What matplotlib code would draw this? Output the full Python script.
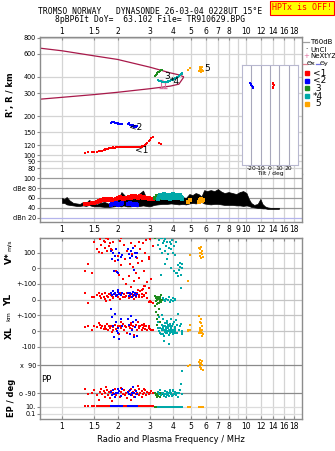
import matplotlib
matplotlib.use('Agg')
import matplotlib.pyplot as plt
from matplotlib.lines import Line2D
import numpy as np

# ---- axis ticks / labels ----
freq_ticks = [1, 1.5, 2, 3, 4, 5, 6, 7, 8, 10, 12, 14, 16, 18]
freq_ticks_mid = [1, 1.5, 2, 3, 4, 5, 6, 7, 8, 9, 10, 12, 14, 16, 18]
freq_grid = [1, 1.5, 2, 3, 4, 5, 6, 7, 8, 9, 10, 12, 14, 16, 18]
height_ticks = [80, 90, 100, 120, 150, 200, 300, 400, 600, 800]
dbe_ticks = [20, 40, 60, 80, 100]
dbe_labels = ['dBn 20', '40', '60', 'dBe 80', '100']

# ---- model traces (maroon) ----
trace_up_f = [0.76, 1.0, 1.5, 2.0, 3.0, 3.86, 4.3, 4.55]
trace_up_h = [665, 635, 580, 545, 475, 430, 415, 402]
trace_lo_f = [0.76, 1.0, 1.5, 2.0, 3.0, 3.86, 4.3, 4.55]
trace_lo_h = [270, 279, 293, 305, 325, 340, 352, 395]

# ---- NeXtYZ markers ----
nxyz_f = [3.45, 3.62]
nxyz_h = [352, 348]
nxyz_err = [25, 20]

# ---- echo groups: freq, height, amplitude, V*, YL, XL, PP, EP ----
red_f = [1.33, 1.38, 1.45, 1.5, 1.55, 1.58, 1.6, 1.62, 1.65, 1.68, 1.7, 1.72, 1.74, 1.75, 1.78, 1.8,
         1.82, 1.85, 1.86, 1.88, 1.9, 1.93, 1.96, 2.0, 2.03, 2.06, 2.08, 2.1, 2.13, 2.16, 2.2, 2.23,
         2.26, 2.3, 2.33, 2.36, 2.38, 2.4, 2.43, 2.46, 2.5, 2.53, 2.56, 2.58, 2.6, 2.63, 2.66, 2.7,
         2.73, 2.76, 2.78, 2.8, 2.83, 2.86, 2.9, 2.95, 2.98, 3.0, 3.05, 3.1, 3.35, 3.45]
red_h = [105, 106, 106, 107, 107, 108, 108, 109, 109, 110, 110, 111, 111, 112, 112, 113,
         113, 114, 113, 114, 115, 114, 115, 115, 116, 115, 116, 116, 115, 116, 115, 116,
         115, 116, 115, 116, 116, 115, 116, 116, 116, 115, 116, 117, 116, 117, 117, 117,
         118, 118, 118, 119, 120, 122, 125, 128, 130, 132, 135, 138, 124, 122]
red_db = [47, 48, 49, 50, 51, 53, 54, 55, 56, 57, 56, 58, 57, 55, 57, 56,
          55, 57, 56, 55, 54, 56, 58, 60, 61, 62, 60, 59, 57, 58, 60, 59,
          61, 62, 63, 62, 61, 64, 63, 62, 64, 63, 62, 61, 62, 63, 64, 63,
          62, 61, 60, 62, 61, 60, 59, 58, 59, 57, 58, 57, np.nan, np.nan]
red_v = [-20, 25, -30, 170, 120, 105, 185, 150, 95, 175, 130, 165, 190, 110, 185, 140,
         160, 125, 115, 100, 170, 45, -15, 80, -40, 175, 190, 20, -70, 150, 60, -100,
         110, -50, 30, -120, 160, 90, 10, -80, 140, -30, 65, 35, 170, -60, 120, -140,
         45, 160, -110, -20, 100, 180, -90, 60, 75, 185, -70, 140, np.nan, np.nan]
red_yl = [40, -20, 20, 15, 30, 40, 25, 10, 35, 20, 5, 40, -10, 25, 15, 35,
          -5, 30, 25, 20, 10, 35, 25, 15, 40, 5, 45, 30, 20, 35, 15, 25,
          40, 10, 30, 20, 20, 35, 25, 5, 30, 20, 45, 60, 15, 30, 55, 20,
          35, 70, 30, 25, 90, 40, 10, -15, 75, -10, -15, -20, np.nan, np.nan]
red_xl = [25, 30, 10, 35, 25, 50, 40, 20, 35, 15, 30, 25, 15, 45, 10, 30,
          20, 35, -5, 5, 25, 40, 15, 30, -20, 35, 60, 20, 45, 10, 30, 25,
          -10, 35, 20, 40, 50, 15, 30, -25, 25, 40, 10, 55, 35, 20, 30, 5,
          40, 20, 45, 35, 15, 30, 10, 20, 30, 15, 5, 10, np.nan, np.nan]
red_pp = [-60, -95, -88, -70, -100, -130, -80, -60, -95, -75, -110, -85, -50, -70, -100, -80,
          -120, -75, -140, -95, -85, -60, -100, -90, -75, -110, -55, -80, -95, -70, -100, -85,
          -120, -75, -95, -65, -135, -100, -80, -110, -70, -95, -85, -45, -100, -60, -90, -115,
          -75, -95, -60, -85, -70, -100, -80, -95, -90, -85, -75, -90, np.nan, np.nan]
red_ep = [12] * 60 + [np.nan, np.nan]

blue_f = [1.84, 1.87, 1.9, 1.92, 1.95, 1.97, 1.98, 2.0, 2.02, 2.05, 2.08, 2.12,
          2.28, 2.31, 2.34, 2.37, 2.4, 2.43, 2.46, 2.5, 2.53, 2.56]
blue_h = [178, 180, 181, 179, 178, 177, 176, 175, 176, 174, 173, 173,
          175, 177, 172, 170, 168, 171, 166, 169, 165, 167]
blue_db = [46, 47, 48, 47, 48, 49, 48, 47, 46, 47, 48, 49,
           47, 48, 49, 48, 47, 46, 47, 48, 47, 46]
blue_v = [110, 60, 95, -15, 80, 120, -25, 50, -30, 100, 70, 85,
          125, 90, 65, 110, 80, 130, -10, 95, 70, 100]
blue_yl = [45, 30, 55, 35, 40, 25, 30, 50, 60, 35, 30, 45,
           40, 25, 45, 35, 20, 50, 30, 40, 25, 35]
blue_xl = [140, 90, 30, -40, 110, 60, 0, -10, 20, -50, 75, 35,
           80, 40, -20, 95, 10, 55, -40, 25, 70, -30]
blue_pp = [-80, -100, -70, -95, -110, -85, -85, -60, -90, -75, -105, -65,
           -80, -95, -70, -100, -85, -47, -90, -110, -75, -95]
blue_ep = [12] * 22

green_f = [3.2, 3.23, 3.26, 3.29, 3.32, 3.35, 3.38, 3.41, 3.44, 3.47]
green_h = [410, 415, 420, 428, 435, 440, 445, 448, 452, 455]
green_db = [60, 61, 63, 64, 62, 63, 64, 62, 61, 60]
green_v = [190, -210, -190, -200, -220, -180, -205, -195, -215, -200]
green_yl = [25, 10, -30, 20, 5, -20, 15, -10, 30, 0]
green_xl = [160, 120, 80, 40, 100, 140, 20, 60, 200, 10]
green_pp = [-90, -100, -110, -95, -105, -85, -115, -90, -100, -95]
green_ep = [10] * 10

cyan_f = [3.32, 3.36, 3.4, 3.44, 3.48, 3.52, 3.56, 3.6, 3.64, 3.68, 3.72, 3.76, 3.8, 3.84, 3.88,
          3.92, 3.96, 4.0, 4.05, 4.1, 4.15, 4.2, 4.25, 4.3, 4.35, 4.4, 4.45, 4.5, 3.5, 3.7,
          3.54, 3.58, 3.62, 3.66, 3.74, 3.78, 3.86, 3.9, 3.98, 4.02, 4.08, 4.12]
cyan_h = [378, 375, 372, 370, 368, 366, 365, 365, 366, 367, 368, 370, 372, 374, 376,
          378, 380, 383, 386, 390, 394, 398, 402, 407, 412, 418, 424, 430, 367, 368,
          366, 365, 366, 366, 369, 371, 375, 377, 381, 385, 388, 392]
cyan_db = [58, 62, 66, 64, 62, 66, 68, 65, 62, 64, 67, 63, 60, 58, 62,
           64, 66, 65, 62, 64, 67, 63, 61, 64, 67, 63, 60, 58, 64, 62,
           60, 63, 67, 61, 65, 62, 66, 60, 63, 68, 61, 65]
cyan_v = [150, 180, 120, 190, 95, 160, 175, 110, 185, 140, 170, 90, 130, 165, 155,
          120, 180, 100, 145, 85, 170, -30, 20, -10, 35, -40, 25, 5, 190, 60,
          -190, -200, -210, -195, -205, -185, -215, -200, -190, -210, -195, -205]
cyan_yl = [-180, -200, -210, 160, -190, -220, -195, -205, 230, -185, -215, -200, -190, -210, 200,
           -195, -205, -220, 180, -200, 170, -210, 150, -190, 210, 76, -200, -215, -185, -200,
           -175, -230, -190, -210, -180, -225, -200, -185, -215, -195, -175, -210]
cyan_xl = [60, 90, 20, -20, 40, 75, -60, 30, 50, 10, 65, 25, -85, 45, 15,
           80, 35, -10, 55, 20, 70, 40, 110, 5, 30, 45, 0, -20, 100, 50,
           15, 35, 5, 25, 40, 10, 30, 20, 45, 0, 25, 15]
cyan_pp = [-80, -95, -70, -100, -90, -85, -105, -75, -95, -110, -80, -100, -90, -70, -95,
           -85, -105, -75, -95, -80, -100, -90, -110, -85, -70, -30, -95, 55, -90, -100,
           -85, -100, -75, -95, -90, -105, -80, -95, -70, -100, -90, -85]
cyan_ep = [7, 6, 8, 7, 6, 7, 6, 8, 7, 6, 7, 6, 7, 8, 6, 7, 6, 7, 8, 6, 7, 6, 7, 8, 6, 7, 6, 7, 7, 7,
           6, 8, 7, 6, 7, 8, 6, 7, 6, 8, 7, 6]

orange_f = [4.8, 4.97, 5.55, 5.58, 5.6, 5.62, 5.65, 5.68, 5.7, 5.73, 5.76, 5.8]
orange_h = [455, 470, 445, 460, 475, 450, 465, 440, 470, 455, 480, 448]
orange_db = [52, 55, 52, 54, 56, 53, 55, 57, 58, 54, 56, 55]
orange_v = [-80, 85, 130, 100, 80, 120, 95, 135, 65, 110, 90, 75]
orange_yl = [-200, -190, -210, -200, -195, -215, -205, -190, -200, -210, -195, -220]
orange_xl = [10, 40, 95, 60, 20, -10, 75, 0, 50, -30, 30, -20]
orange_pp = [85, 90, 110, 80, 120, 95, 65, 105, 75, 115, 90, 60]
orange_ep = [10] * 12

# ---- background amplitude trace (black) ----
amp_f = [1.0, 1.03, 1.06, 1.1, 1.15, 1.2, 1.25, 1.3, 1.35, 1.4, 1.45, 1.5, 1.55, 1.6, 1.7, 1.8, 1.9,
         2.0, 2.1, 2.15, 2.25, 2.35, 2.45, 2.55, 2.65, 2.75, 2.85, 2.95, 3.05, 3.15, 3.3, 3.5, 3.7,
         3.9, 4.1, 4.3, 4.5, 4.7, 4.9, 5.1, 5.3, 5.5, 5.7, 5.9, 6.1, 6.4, 6.7, 7.0, 7.3, 7.6, 8.0,
         8.4, 8.8, 9.2, 9.6, 10.0, 10.3, 10.6, 11.0, 11.5, 11.9, 12.2, 12.6, 13.0, 13.5, 14.0, 14.5, 15.0]
amp_lo = [50, 50, 47, 46, 45, 44, 44, 45, 44, 46, 44, 43, 43, 43, 42, 42, 43,
          44, 43, 45, 43, 43, 44, 43, 44, 45, 44, 43, 44, 46, 47, 48, 48,
          49, 48, 47, 48, 47, 49, 50, 49, 50, 52, 49, 48, 47, 48, 48, 47, 46, 46,
          46, 45, 45, 44, 45, 44, 42, 41, 40, 40, 39, 39, 38, 38, 38, 38, 38]
amp_hi = [60, 58, 62, 55, 50, 49, 48, 52, 50, 56, 53, 48, 47, 50, 52, 48, 52,
          55, 72, 68, 60, 62, 58, 66, 70, 75, 62, 58, 56, 62, 65, 67, 66,
          70, 66, 64, 62, 60, 68, 66, 70, 68, 63, 76, 74, 76, 74, 78, 73, 70, 72,
          70, 68, 72, 74, 70, 58, 50, 46, 48, 58, 48, 43, 41, 40, 40, 40, 40]

# ---- tilt inset ----
tilt_red_x = [3, 3.5, 4, 3.5, 3]
tilt_red_y = [82, 81, 80, 78, 77]
tilt_blue_x = [-21, -20.5, -20, -19, -18.5, -18]
tilt_blue_y = [82, 81, 80, 79, 78, 77]

RED, BLUE, GREEN, CYAN, ORANGE = '#ff0000', '#0000ff', '#1e8c1e', '#00a8a8', '#ffa500'
MAROON = '#a8194a'
FRAME = '#8c8c8c'
GRID = '#d4d4d4'

groups = [
    (red_f, red_h, red_db, red_v, red_yl, red_xl, red_pp, red_ep, RED),
    (blue_f, blue_h, blue_db, blue_v, blue_yl, blue_xl, blue_pp, blue_ep, BLUE),
    (green_f, green_h, green_db, green_v, green_yl, green_xl, green_pp, green_ep, GREEN),
    (cyan_f, cyan_h, cyan_db, cyan_v, cyan_yl, cyan_xl, cyan_pp, cyan_ep, CYAN),
    (orange_f, orange_h, orange_db, orange_v, orange_yl, orange_xl, orange_pp, orange_ep, ORANGE),
]


# lower panel bands: 1 unit = 100 m/s, 100 km or 100 deg
def v_pos(v):
    return np.asarray(v, float) / 100.0


def yl_pos(v):
    return -2 + np.asarray(v, float) / 100.0


def xl_pos(v):
    return -4 + np.asarray(v, float) / 100.0


def pp_pos(v):
    return -7.07 + np.asarray(v, float) / 100.0


def ep_pos(v):
    return -8.81 + 0.22 * np.log10(np.asarray(v, float) / 10.0)


W, H = 335, 451
plt.rcParams['font.family'] = 'DejaVu Sans'
plt.rcParams['font.size'] = 5.5
fig = plt.figure(figsize=(W / 100, H / 100), dpi=100)


def box(x0, y0, x1, y1):
    return [x0 / W, 1 - y1 / H, (x1 - x0) / W, (y1 - y0) / H]


def pxt(x, y, s, **kw):
    fig.text(x / W, 1 - y / H, s, **kw)


ax_r = fig.add_axes(box(40, 37, 302, 174))
ax_db = fig.add_axes(box(40, 174, 302, 222))
ax_lo = fig.add_axes(box(40, 238, 302, 419))
ax_t = fig.add_axes(box(242, 65, 298, 165))

for ax in (ax_r, ax_db, ax_lo):
    ax.set_xscale('log')
    ax.set_xlim(0.76, 20)
    ax.minorticks_off()
    for s in ax.spines.values():
        s.set_color(FRAME)
        s.set_linewidth(1)
    for f in freq_grid:
        ax.axvline(f, color=GRID, lw=0.9, zorder=0)
    ax.tick_params(length=2, color=FRAME, pad=1.5, labelsize=5.5)
    ax.tick_params(axis='y', labelsize=4.7, pad=1)

# ---- R' panel ----
ax_r.set_yscale('log')
ax_r.set_ylim(72, 810)
ax_r.minorticks_off()
ax_r.set_yticks(height_ticks)
ax_r.set_yticklabels([str(t) for t in height_ticks])
for t in height_ticks:
    ax_r.axhline(t, color=GRID, lw=0.9, zorder=0)
ax_r.set_xticks(freq_ticks)
ax_r.set_xticklabels([('%g' % t) for t in freq_ticks])
ax_r.tick_params(axis='x', top=True, bottom=False, labeltop=True, labelbottom=False,
                 direction='in', pad=0.5)
ax_r.spines['bottom'].set_visible(False)
ax_r.plot(trace_up_f, trace_up_h, color=MAROON, lw=0.9)
ax_r.plot(trace_lo_f, trace_lo_h, color=MAROON, lw=0.9)
ax_r.errorbar(nxyz_f, nxyz_h, yerr=nxyz_err, fmt='none', ecolor='#e070a0', elinewidth=0.8, capsize=1.5)
for f, h, db, v, yl, xl, pp, ep, c in groups:
    ax_r.scatter(f, h, s=3.5, marker='s', color=c, lw=0, zorder=3)
lab_kw = dict(fontsize=6.5, zorder=4)
ax_r.text(2.5, 104, '<1', **lab_kw)
ax_r.text(2.3, 158, '<2', **lab_kw)
ax_r.text(3.6, 385, '3', **lab_kw)
ax_r.text(3.85, 355, '*4', **lab_kw)
ax_r.text(5.9, 445, '5', **lab_kw)
pxt(11, 95, "R', R / km", rotation=90, ha='center', va='center', fontsize=6, fontweight='bold')

# ---- tilt inset ----
ax_t.set_xlim(-30, 30)
ax_t.set_ylim(0, 100)
ax_t.set_facecolor('white')
ax_t.set_zorder(2)
for s in ax_t.spines.values():
    s.set_color('#b8b8d0')
for x in [-20, -10, 0, 10, 20]:
    ax_t.axvline(x, color='#a8a8bc', lw=0.8, zorder=0)
ax_t.set_xticks([-20, -10, 0, 10, 20])
ax_t.set_xticklabels(['-20', '-10', '0', '10', '20'], fontsize=4.3)
ax_t.set_yticks([])
ax_t.tick_params(axis='x', length=0, pad=1)
ax_t.set_xlabel('Tilt / deg', fontsize=4.3, labelpad=0)
ax_t.scatter(tilt_red_x, tilt_red_y, s=3, marker='s', color=RED, lw=0)
ax_t.scatter(tilt_blue_x, tilt_blue_y, s=3, marker='s', color=BLUE, lw=0)

# ---- amplitude panel ----
ax_db.set_ylim(11.4, 108.6)
ax_db.set_yticks(dbe_ticks)
ax_db.set_yticklabels(dbe_labels)
ax_db.set_xticks([])
ax_db.spines['top'].set_visible(False)
for t in [40, 60, 80, 100]:
    ax_db.axhline(t, color='#9a9a9a', lw=0.9, zorder=0)
ax_db.axhline(20, color='#b4b4ec', lw=0.9, zorder=0)
ax_db.fill_between(amp_f, amp_lo, amp_hi, color='black', lw=0.5, zorder=2)
for f, h, db, v, yl, xl, pp, ep, c in groups:
    ax_db.scatter(f, db, s=5, marker='s', color=c, lw=0, zorder=3)

# ---- lower panel ----
ax_lo.set_ylim(-9.6, 1.93)
lo_ticks = [1, 0, -1, -2, -3, -4, -5, float(pp_pos(90)), float(pp_pos(-90)),
            float(ep_pos(10)), float(ep_pos(0.1))]
lo_labels = ['100', '0', '+-100', '0', '+-100', '0', '-100', 'x  90', 'o -90', '10.', '0.1']
ax_lo.set_yticks(lo_ticks)
ax_lo.set_yticklabels(lo_labels)
for t in lo_ticks[:7]:
    ax_lo.axhline(t, color='#c4c4c4', lw=0.9, zorder=0)
for t in lo_ticks[7:9]:
    ax_lo.axhline(t, color='#8a8a8a', lw=0.9, zorder=0)
for t in lo_ticks[9:]:
    ax_lo.axhline(t, color='#dcdcdc', lw=0.9, zorder=0)
ax_lo.set_xticks(freq_ticks)
ax_lo.set_xticklabels([('%g' % t) for t in freq_ticks])
ax_lo.tick_params(axis='x', top=False, bottom=True, direction='in', pad=2)
sec = ax_lo.secondary_xaxis('top')
sec.set_xticks(freq_ticks_mid)
sec.set_xticklabels([('%g' % t) for t in freq_ticks_mid])
sec.minorticks_off()
sec.tick_params(axis='x', direction='in', length=2, color=FRAME, pad=3, labelsize=5.5)
sec.spines['top'].set_color(FRAME)
for f, h, db, v, yl, xl, pp, ep, c in groups:
    for vals in (v_pos(v), yl_pos(yl), xl_pos(xl), pp_pos(pp), ep_pos(ep)):
        ax_lo.scatter(f, vals, s=3.5, marker='s', color=c, lw=0, zorder=3)
ax_lo.set_xlabel('Radio and Plasma Frequency / MHz', fontsize=6, labelpad=3)

pxt(9, 258, 'V*', rotation=90, ha='center', va='center', fontsize=6.5, fontweight='bold')
pxt(9, 245, 'm/s', rotation=90, ha='center', va='center', fontsize=4.5)
pxt(9, 300, 'YL', rotation=90, ha='center', va='center', fontsize=6.5, fontweight='bold')
pxt(9, 316, 'km', rotation=90, ha='center', va='center', fontsize=4.5)
pxt(9, 333, 'XL', rotation=90, ha='center', va='center', fontsize=6.5, fontweight='bold')
pxt(46, 380, 'PP', ha='center', va='center', fontsize=6)
pxt(12, 398, 'EP / deg', rotation=90, ha='center', va='center', fontsize=6, fontweight='bold')

# ---- title ----
pxt(150, 12, 'TROMSO NORWAY   DYNASONDE 26-03-04 0228UT 15\u00b0E', ha='center', va='center',
    family='DejaVu Sans Mono', fontsize=5.8)
pxt(150, 20, '8pBP6It DoY=  63.102 File= TR910629.BPG', ha='center', va='center',
    family='DejaVu Sans Mono', fontsize=5.8)
pxt(302, 8, 'HPTx is OFF!', ha='center', va='center', family='DejaVu Sans Mono', fontsize=6,
    color='red', bbox=dict(boxstyle='square,pad=0.25', fc='#ffff00', ec='red', lw=0.8))


# ---- legend ----
def leg_line(x0, x1, y, c):
    fig.add_artist(Line2D([x0 / W, x1 / W], [1 - y / H, 1 - y / H], color=c, lw=0.9))


leg_line(303, 309, 42, '#a0a0a0')
pxt(310, 42, 'T60dB', va='center', fontsize=5)
pxt(305, 49.5, '\u00b7', va='center', fontsize=5)
pxt(310, 49.5, 'UnCl', va='center', fontsize=5)
pxt(303, 56.5, '+', va='center', fontsize=5, color='#e070a0')
pxt(310, 56.5, 'NeXtYZ', va='center', fontsize=5)
leg_line(303, 307, 63.5, '#e08090')
pxt(307, 63.5, '\u0398x', va='center', fontsize=4.6)
leg_line(316, 320, 63.5, '#7070e0')
pxt(320, 63.5, '\u0398y', va='center', fontsize=4.6)
leg_items = [('<1', RED), ('<2', BLUE), (' 3', GREEN), ('*4', CYAN), (' 5', ORANGE)]
for i, (txt, c) in enumerate(leg_items):
    y = 73 + i * 7.7
    fig.add_artist(Line2D([307 / W], [1 - y / H], marker='s', ms=2.6, color=c, lw=0))
    pxt(313, y, txt, va='center', fontsize=6.5)

fig.savefig('out.png', dpi=100)
